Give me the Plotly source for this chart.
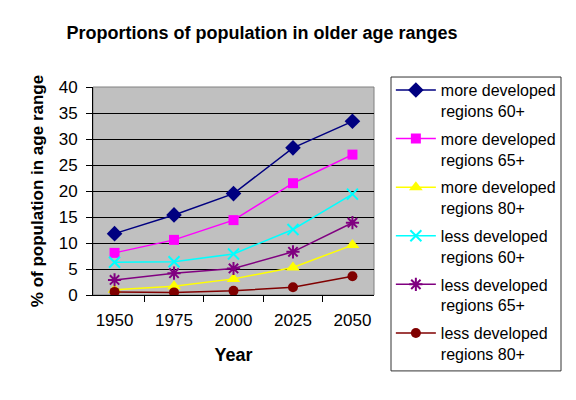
import plotly.graph_objects as go

years = ["1950", "1975", "2000", "2025", "2050"]
more_60 = [11.8, 15.4, 19.5, 28.3, 33.4]
more_65 = [8.1, 10.6, 14.4, 21.5, 27.0]
more_80 = [1.0, 1.7, 3.1, 5.3, 9.6]
less_60 = [6.3, 6.4, 7.9, 12.6, 19.4]
less_65 = [2.9, 4.2, 5.1, 8.3, 13.9]
less_80 = [0.6, 0.5, 0.8, 1.5, 3.6]
series_names = [
    "more developed<br>regions 60+",
    "more developed<br>regions 65+",
    "more developed<br>regions 80+",
    "less developed<br>regions 60+",
    "less developed<br>regions 65+",
    "less developed<br>regions 80+",
]

FONT = "Liberation Sans, Arial, sans-serif"

styles = [
    dict(color="#000080", symbol="diamond", size=12),
    dict(color="#FF00FF", symbol="square", size=10),
    dict(color="#FFFF00", symbol="triangle-up", size=12),
    dict(color="#00FFFF", symbol="x-thin-open", size=11),
    dict(color="#800080", symbol="asterisk-open", size=11),
    dict(color="#800000", symbol="circle", size=10),
]

data = [more_60, more_65, more_80, less_60, less_65, less_80]

fig = go.Figure()
for i, (name, vals, st) in enumerate(zip(series_names, data, styles)):
    marker = dict(symbol=st["symbol"], size=st["size"], color=st["color"])
    if "open" in st["symbol"]:
        marker["line"] = dict(color=st["color"], width=2)
    fig.add_trace(go.Scatter(
        x=years, y=vals, name=name, mode="lines+markers",
        line=dict(color=st["color"], width=1.5),
        marker=marker, legendgroup=str(i),
    ))

# plot-area border
fig.add_shape(type="rect", xref="paper", yref="paper", x0=0, x1=1, y0=0, y1=1,
              line=dict(color="#808080", width=1), layer="below")
# legend box
fig.add_shape(type="rect", xref="paper", yref="paper", x0=1.0605, x1=1.6655,
              y0=-0.365, y1=1.048, line=dict(color="#333333", width=1),
              fillcolor="rgba(0,0,0,0)", layer="above")

fig.update_layout(
    width=576, height=400,
    margin=dict(l=85, r=210, t=79, b=113),
    paper_bgcolor="white", plot_bgcolor="#C0C0C0",
    font=dict(family=FONT, size=16, color="black"),
    title=dict(text="<b>Proportions of population in older age ranges</b>",
               x=0.441, xanchor="center", y=0.9375, yanchor="middle",
               font=dict(size=18, family=FONT)),
    showlegend=True,
    legend=dict(x=1.06, xanchor="left", y=1.067, yanchor="top",
                borderwidth=0, bgcolor="rgba(0,0,0,0)", valign="top",
                font=dict(size=16, family=FONT), tracegroupgap=4,
                itemwidth=40, maxheight=1),
    xaxis=dict(type="category", showgrid=False, ticks="outside", tickson="boundaries",
               ticklen=6, tickcolor="black", showline=True, linecolor="black",
               linewidth=1, tickfont=dict(size=17), automargin=False,
               ticklabelstandoff=10,
               title=dict(text="<b>Year</b>", font=dict(size=18), standoff=18)),
    yaxis=dict(range=[0, 40], dtick=5, showgrid=True, gridcolor="black", gridwidth=1,
               ticks="outside", ticklen=6, tickcolor="black", showline=True,
               linecolor="black", linewidth=1, zeroline=False, tickfont=dict(size=17),
               automargin=False, ticklabelstandoff=5,
               title=dict(text="<b>% of population in age range</b>", font=dict(size=17),
                          standoff=10)),
)

fig.write_html("out.html")
